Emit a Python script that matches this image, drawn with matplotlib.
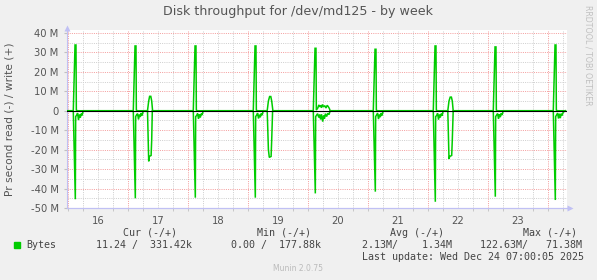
import matplotlib
matplotlib.use("Agg")
import matplotlib.pyplot as plt
from matplotlib.patches import Rectangle
import numpy as np

# ---- data (time in days since Dec 16 00:00, values in MB/s) ----
day_labels = ["16", "17", "18", "19", "20", "21", "22", "23"]
y_ticks = [40, 30, 20, 10, 0, -10, -20, -30, -40, -50]
y_labels = ["40 M", "30 M", "20 M", "10 M", "0", "-10 M", "-20 M", "-30 M", "-40 M", "-50 M"]

write_t = [-0.02, 0.088, 0.117, 0.133, 0.139, 0.16,
           1.088, 1.117, 1.133, 1.139, 1.16, 1.325, 1.345, 1.36, 1.38, 1.395, 1.41,
           2.088, 2.117, 2.133, 2.139, 2.16,
           3.088, 3.117, 3.133, 3.139, 3.16, 3.32, 3.34, 3.36, 3.38, 3.395, 3.415,
           4.088, 4.117, 4.133, 4.139, 4.165, 4.18, 4.195, 4.21, 4.225, 4.24, 4.26, 4.28, 4.30, 4.32, 4.34, 4.355, 4.37,
           5.088, 5.117, 5.133, 5.139, 5.16,
           6.088, 6.117, 6.133, 6.139, 6.16, 6.33, 6.35, 6.37, 6.39, 6.405, 6.42,
           7.088, 7.117, 7.133, 7.139, 7.16,
           8.088, 8.117, 8.133, 8.139, 8.16, 8.29]
write_v = [0, 0, 33.8, 33.8, 0.3, 0,
           0, 33.3, 33.3, 0.3, 0, 0, 5.0, 7.4, 7.4, 5.0, 0,
           0, 33.3, 33.3, 0.3, 0,
           0, 33.3, 33.3, 0.3, 0, 0, 5.0, 7.3, 7.3, 5.0, 0,
           0, 32.1, 32.1, 0.3, 1.5, 3.0, 2.0, 2.8, 1.5, 3.2, 2.0, 2.6, 1.4, 2.8, 2.0, 1.2, 0,
           0, 31.6, 31.6, 0.3, 0,
           0, 33.3, 33.3, 0.3, 0, 0, 5.0, 7.0, 7.0, 5.0, 0,
           0, 32.8, 32.8, 0.3, 0,
           0, 33.8, 33.8, 0.3, 0, 0]

read_t = [-0.02, 0.088, 0.122, 0.128, 0.145, 0.16, 0.175, 0.19, 0.205, 0.22, 0.235, 0.25, 0.265,
          1.088, 1.122, 1.128, 1.145, 1.16, 1.175, 1.19, 1.205, 1.22, 1.235, 1.25, 1.265,
          1.325, 1.345, 1.355, 1.385, 1.395, 1.405,
          2.088, 2.122, 2.128, 2.145, 2.16, 2.175, 2.19, 2.205, 2.22, 2.235, 2.25, 2.265,
          3.088, 3.122, 3.128, 3.145, 3.16, 3.175, 3.19, 3.205, 3.22, 3.235, 3.25, 3.265,
          3.32, 3.34, 3.355, 3.385, 3.395, 3.41,
          4.088, 4.122, 4.128, 4.16, 4.18, 4.195, 4.21, 4.225, 4.245, 4.26, 4.275, 4.29, 4.31, 4.33, 4.35, 4.37,
          5.088, 5.122, 5.128, 5.145, 5.16, 5.175, 5.19, 5.205, 5.22, 5.235, 5.25, 5.265,
          6.088, 6.122, 6.128, 6.145, 6.16, 6.175, 6.19, 6.205, 6.22, 6.235, 6.25, 6.265,
          6.33, 6.35, 6.362, 6.395, 6.405, 6.42,
          7.088, 7.122, 7.128, 7.145, 7.16, 7.175, 7.19, 7.205, 7.22, 7.235, 7.25, 7.265,
          8.088, 8.122, 8.128, 8.145, 8.16, 8.175, 8.19, 8.205, 8.22, 8.235, 8.25, 8.265, 8.29]
read_v = [0, 0, -45.5, -3.0, -2.2, -1.2, -4.8, -2.0, -3.6, -1.5, -2.4, -0.5, 0,
          0, -45.0, -3.0, -2.0, -1.5, -4.5, -2.0, -3.2, -1.2, -2.5, -0.6, 0,
          0, -26.0, -23.5, -23.0, -15.0, 0,
          0, -44.7, -3.0, -2.4, -1.4, -4.2, -1.8, -3.5, -1.5, -2.2, -0.5, 0,
          0, -44.7, -3.0, -2.2, -1.2, -4.0, -2.0, -3.4, -1.4, -2.3, -0.5, 0,
          0, -20.0, -24.0, -23.5, -15.0, 0,
          0, -42.5, -3.0, -1.5, -3.5, -2.0, -4.5, -1.8, -5.6, -2.5, -4.0, -1.5, -3.0, -1.3, -2.0, 0,
          0, -41.6, -3.0, -2.0, -1.2, -4.3, -2.0, -3.3, -1.2, -2.4, -0.5, 0,
          0, -46.8, -3.0, -2.4, -1.3, -4.6, -2.0, -3.5, -1.5, -2.6, -0.5, 0,
          0, -24.8, -23.5, -23.0, -15.0, 0,
          0, -44.2, -3.0, -2.2, -1.4, -4.2, -1.8, -3.3, -1.3, -2.2, -0.5, 0,
          0, -45.9, -3.0, -2.0, -1.2, -4.0, -1.5, -3.8, -1.5, -2.5, -1.0, -0.5, 0]

legend_headers = ["Cur (-/+)", "Min (-/+)", "Avg (-/+)", "Max (-/+)"]
legend_values = ["11.24 /  331.42k", "0.00 /  177.88k", "2.13M/    1.34M", "122.63M/   71.38M"]
series_name = "Bytes"
last_update = "Last update: Wed Dec 24 07:00:05 2025"

# ---- figure ----
W, H = 597, 280
fig = plt.figure(figsize=(W / 100, H / 100), dpi=100, facecolor="#F0F0F0")
ax = fig.add_axes([67 / W, (H - 208) / H, 500 / W, 178 / H])
ax.set_facecolor("white")
x0, x1 = -0.0167, 8.3167
ax.set_xlim(x0, x1)
ax.set_ylim(-50, 41.5)

px = 0.72  # one pixel in points
# grid
for k in range(0, 9 * 4):
    t = k * 0.25
    if t < x0 or t > x1:
        continue
    if k % 4 == 0:
        ax.axvline(t, color="#F4A0A0", lw=px, ls=(0, (1, 1.2)), zorder=1)
    else:
        ax.axvline(t, color="#D0D0D0", lw=px, ls=(0, (1, 1.2)), zorder=0.5)
for v in range(-50, 41, 5):
    if v % 10 == 0:
        ax.axhline(v, color="#F4A0A0", lw=px, ls=(0, (1, 1.2)), zorder=1)
    else:
        ax.axhline(v, color="#D0D0D0", lw=px, ls=(0, (1, 1.2)), zorder=0.5)

green = "#00CC00"
ax.plot(write_t, write_v, color=green, lw=1.1, zorder=3, solid_joinstyle="miter")
ax.plot(read_t, read_v, color=green, lw=1.1, zorder=3, solid_joinstyle="miter")
ax.axhline(0, color="black", lw=0.8, zorder=4)

# axes styling
for s in ["top", "right"]:
    ax.spines[s].set_visible(False)
axcol = "#C0C0F4"
ax.spines["left"].set_color(axcol)
ax.spines["bottom"].set_color(axcol)
ax.spines["left"].set_linewidth(0.8)
ax.spines["bottom"].set_linewidth(0.8)
ax.set_xticks([d + 0.5 for d in range(len(day_labels))])
ax.set_xticklabels(day_labels)
ax.set_yticks(y_ticks)
ax.set_yticklabels(y_labels)
ax.tick_params(axis="x", length=0, pad=6, labelsize=7.2, labelcolor="#555555")
ax.tick_params(axis="y", length=2, color="#C0C0C0", pad=4, labelsize=7.2, labelcolor="#555555")
ax.set_xticks([k * 0.25 for k in range(34)], minor=True)
ax.tick_params(axis="x", which="minor", length=2, color="#C0C0C0")
# axis arrows
ax.plot([1.005], [0], marker=">", ms=5, color=axcol, transform=ax.transAxes, clip_on=False, mec="none")
ax.plot([0, 1.005], [0, 0], color=axcol, lw=0.8, transform=ax.transAxes, clip_on=False)
ax.plot([0], [1.01], marker="^", ms=5, color=axcol, transform=ax.transAxes, clip_on=False, mec="none")

def ftext(x, y, s, **kw):
    fig.text(x / W, 1 - y / H, s, **kw)

ftext(298, 12, "Disk throughput for /dev/md125 - by week", ha="center", va="center",
      fontsize=9.1, color="#555555")
ftext(10, 119, "Pr second read (-) / write (+)", ha="center", va="center", rotation=90,
      fontsize=7.7, color="#555555")
ftext(588, 5, "RRDTOOL / TOBI OETIKER", ha="center", va="top", rotation=270,
      fontsize=5.7, color="#C0C0C0")

mono = dict(family="DejaVu Sans Mono", fontsize=7.2, color="#444444", va="center")
hx = [123.3, 256.7, 390, 522.7]
for x, s in zip(hx, legend_headers):
    ftext(x, 232.7, s, ha="left", **mono)
vx = [95.7, 231, 362.3, 480]
for x, s in zip(vx, legend_values):
    ftext(x, 244.7, s, ha="left", **mono)
ftext(26.7, 244.7, series_name, ha="left", **mono)
ftext(361.7, 256.7, last_update, ha="left", **mono)
fig.patches.append(Rectangle((14 / W, 1 - 248 / H), 6 / W, 6 / H, transform=fig.transFigure,
                             color=green, zorder=5))
ftext(298, 268.7, "Munin 2.0.75", ha="center", va="center", fontsize=5.5, color="#BBBBBB")

fig.savefig("out.png", dpi=100, facecolor=fig.get_facecolor())
